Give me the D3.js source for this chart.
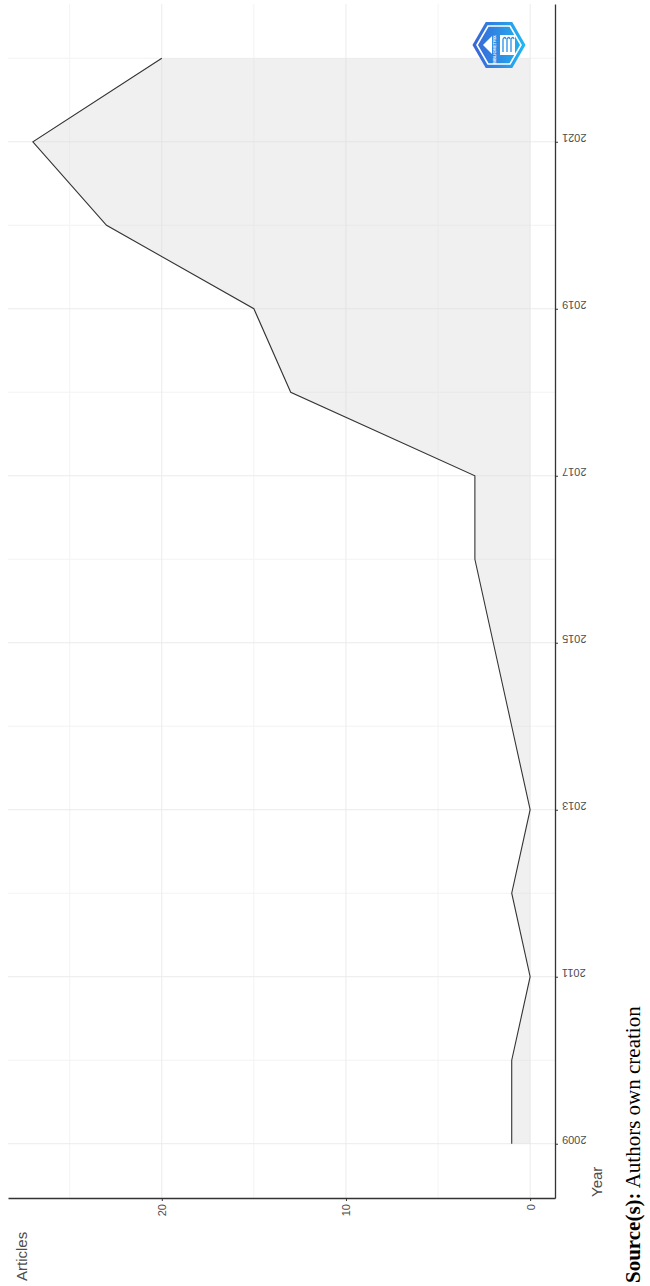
<!DOCTYPE html>
<html>
<head>
<meta charset="utf-8">
<script src="https://cdn.jsdelivr.net/npm/d3@7"></script>
<style>
  body { margin: 0; background: #fff; }
  svg { display: block; }
</style>
</head>
<body>
<svg id="canvas"></svg>
<script>
// data (annual scientific production)
let years = [2009, 2010, 2011, 2012, 2013, 2014, 2015, 2016, 2017, 2018, 2019, 2020, 2021, 2022];
let articles = [1, 1, 0, 1, 0, 1, 2, 3, 3, 13, 15, 23, 27, 20];
let yearTicks = [2009, 2011, 2013, 2015, 2017, 2019, 2021];
let yearMinor = [2010, 2012, 2014, 2016, 2018, 2020, 2022];
let articleTicks = [0, 10, 20];
let articleMinor = [5, 15, 25];

let width = 650;
let height = 1286;

// the figure is turned a quarter turn: years run upward, articles run leftward
let axisX = 555;
let axisY = 1198;

let svg = d3.select('#canvas')
    .attr('width', width)
    .attr('height', height);

let values = years.map((yr, i) => ({year: yr, n: articles[i]}));

let yScale = d3.scaleLinear()
    .domain([2009 - 0.65, 2022 + 0.65])
    .range([axisY, 4]);

let xScale = d3.scaleLinear()
    .domain([-1.35, 27 + 1.35])
    .range([axisX, 8]);

/*grid lines*/
let grid = svg.append('g');
grid.selectAll('.ymin').data(yearMinor).enter().append('line')
    .attr('x1', 8).attr('x2', axisX)
    .attr('y1', d => yScale(d)).attr('y2', d => yScale(d))
    .attr('stroke', '#f3f3f3').attr('stroke-width', 1);
grid.selectAll('.xmin').data(articleMinor).enter().append('line')
    .attr('y1', 4).attr('y2', axisY)
    .attr('x1', d => xScale(d)).attr('x2', d => xScale(d))
    .attr('stroke', '#f3f3f3').attr('stroke-width', 1);
grid.selectAll('.ymaj').data(yearTicks).enter().append('line')
    .attr('x1', 8).attr('x2', axisX)
    .attr('y1', d => yScale(d)).attr('y2', d => yScale(d))
    .attr('stroke', '#ebebeb').attr('stroke-width', 1);
grid.selectAll('.xmaj').data(articleTicks).enter().append('line')
    .attr('y1', 4).attr('y2', axisY)
    .attr('x1', d => xScale(d)).attr('x2', d => xScale(d))
    .attr('stroke', '#ebebeb').attr('stroke-width', 1);

/*area + outline*/
let area = d3.area()
    .y(d => yScale(d.year))
    .x0(xScale(0))
    .x1(d => xScale(d.n));

let line = d3.line()
    .y(d => yScale(d.year))
    .x(d => xScale(d.n));

svg.append('path')
    .datum(values)
    .attr('d', area)
    .attr('fill', '#d9d9d9')
    .attr('fill-opacity', 0.4);

svg.append('path')
    .datum(values)
    .attr('d', line)
    .attr('fill', 'none')
    .attr('stroke', '#333')
    .attr('stroke-width', 1.1);

/*axes*/
let yearAxis = d3.axisRight(yScale)
    .tickValues(yearTicks)
    .tickFormat(d3.format('d'))
    .tickSize(3)
    .tickSizeOuter(0);

let gy = svg.append('g')
    .attr('transform', 'translate(' + axisX + ',0)')
    .call(yearAxis);
gy.select('.domain').attr('stroke', '#333').attr('stroke-width', 1.3);
gy.selectAll('.tick line').attr('stroke', '#333');
gy.selectAll('.tick text')
    .attr('x', 0).attr('dy', null)
    .attr('transform', 'translate(7,-4) rotate(180)')
    .attr('text-anchor', 'end')
    .attr('dominant-baseline', 'central')
    .attr('fill', '#4d4d4d')
    .style('font-family', 'Liberation Sans, Arial, sans-serif')
    .style('font-size', '11px');

let artAxis = d3.axisBottom(xScale)
    .tickValues(articleTicks)
    .tickSize(3)
    .tickSizeOuter(0);

let gx = svg.append('g')
    .attr('transform', 'translate(0,' + axisY + ')')
    .call(artAxis);
gx.select('.domain').attr('stroke', '#333').attr('stroke-width', 1.3);
gx.selectAll('.tick line').attr('stroke', '#333');
gx.selectAll('.tick text')
    .attr('y', 0).attr('dy', null)
    .attr('transform', 'translate(0,6) rotate(-90)')
    .attr('text-anchor', 'end')
    .attr('dominant-baseline', 'central')
    .attr('fill', '#4d4d4d')
    .style('font-family', 'Liberation Sans, Arial, sans-serif')
    .style('font-size', '11px');

/*axis titles*/
svg.append('text')
    .attr('transform', 'translate(602,1197) rotate(-90)')
    .attr('fill', '#4d4d4d')
    .style('font-family', 'Liberation Sans, Arial, sans-serif')
    .style('font-size', '15px')
    .text('Year');

svg.append('text')
    .attr('transform', 'translate(27,1281) rotate(-90)')
    .attr('fill', '#4d4d4d')
    .style('font-family', 'Liberation Sans, Arial, sans-serif')
    .style('font-size', '15px')
    .text('Articles');

/*source note*/
let src = svg.append('text')
    .attr('transform', 'translate(640,1283) rotate(-90)')
    .attr('fill', '#000')
    .style('font-family', 'Liberation Serif, Times New Roman, serif')
    .style('font-size', '21px');
src.append('tspan').style('font-weight', 'bold').text('Source(s):');
src.append('tspan').text(' Authors own creation');

/*small hexagon logo, top right*/
let defs = svg.append('defs');
let grad = defs.append('linearGradient').attr('id', 'logoGrad')
    .attr('x1', '0%').attr('x2', '100%').attr('y1', '0%').attr('y2', '0%');
grad.append('stop').attr('offset', '0%').attr('stop-color', '#3b62d4');
grad.append('stop').attr('offset', '100%').attr('stop-color', '#1fb8f4');

let cx = 499, cy = 45;
let hex = (rx, ry) => {
    let s = rx / 2;
    return [[cx - rx, cy], [cx - s, cy - ry], [cx + s, cy - ry], [cx + rx, cy], [cx + s, cy + ry], [cx - s, cy + ry]]
        .map(p => p.join(',')).join(' ');
};
let logo = svg.append('g');
logo.append('polygon').attr('points', hex(26.5, 23)).attr('fill', 'url(#logoGrad)');
logo.append('polygon').attr('points', hex(22, 19)).attr('fill', 'none')
    .attr('stroke', '#fff').attr('stroke-width', 1.6);
logo.append('path')
    .attr('d', 'M' + (cx - 16) + ',' + cy + ' L' + (cx - 7) + ',' + (cy - 9) + ' L' + (cx - 7) + ',' + (cy + 9) + ' Z')
    .attr('fill', '#fff');
logo.append('rect')
    .attr('x', cx + 1).attr('y', cy - 10).attr('width', 15).attr('height', 20)
    .attr('fill', '#fff');
[0, 1, 2].forEach(i => {
    logo.append('path')
        .attr('d', 'M' + (cx + 4 + i * 4) + ',' + (cy + 7) + ' L' + (cx + 4 + i * 4) + ',' + (cy - 6) + ' q2,-3 3,0')
        .attr('fill', 'none')
        .attr('stroke', '#2a8fe6')
        .attr('stroke-width', 1.3);
});
logo.append('text')
    .attr('transform', 'translate(' + (cx - 3) + ',' + (cy + 19) + ') rotate(-90)')
    .attr('fill', '#fff')
    .style('font-family', 'Liberation Sans, Arial, sans-serif')
    .style('font-size', '4px')
    .style('font-weight', 'bold')
    .text('BIBLIOMETRIX');
</script>
</body>
</html>
